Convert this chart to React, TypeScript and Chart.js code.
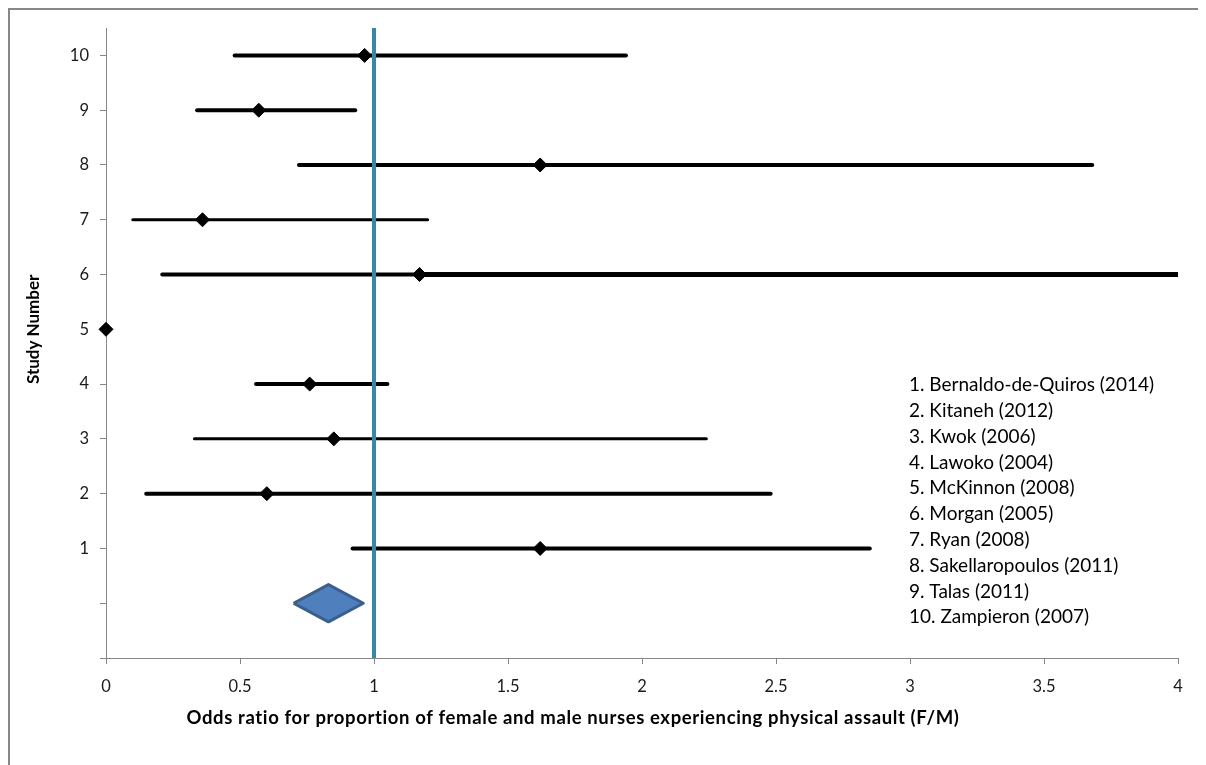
import React, { useEffect, useRef } from 'react';
import { Chart, registerables } from 'chart.js';

Chart.register(...registerables);

// ---- Data ----
const studyNumbers = [1, 2, 3, 4, 5, 6, 7, 8, 9, 10];
const studyNames = [
  'Bernaldo-de-Quiros (2014)',
  'Kitaneh (2012)',
  'Kwok (2006)',
  'Lawoko (2004)',
  'McKinnon (2008)',
  'Morgan (2005)',
  'Ryan (2008)',
  'Sakellaropoulos (2011)',
  'Talas (2011)',
  'Zampieron (2007)',
];
const oddsRatios = [1.62, 0.6, 0.85, 0.76, 0, 1.17, 0.36, 1.62, 0.57, 0.965];
const ciLower: (number | null)[] = [0.92, 0.15, 0.33, 0.56, null, 0.21, 0.1, 0.72, 0.34, 0.48];
const ciUpper: (number | null)[] = [2.85, 2.48, 2.24, 1.05, null, 5.2, 1.2, 3.68, 0.93, 1.94];
const pooledOR = 0.83;
const pooledLower = 0.7;
const pooledUpper = 0.96;
const pooledRow = 0;
const pooledHalfHeight = 0.34;
const referenceOR = 1;
const xTicks = [0, 0.5, 1, 1.5, 2, 2.5, 3, 3.5, 4];

const xTitle = 'Odds ratio for proportion of female and male nurses experiencing physical assault (F/M)';
const yTitle = 'Study Number';

// ---- Styles ----
const FONT = 'Lato, "Open Sans", sans-serif';
const AXIS_GREY = '#868686';
const TEAL = '#3589A2';
const thinRows = [3, 7];

const textPlugin = {
  id: 'textPlugin',
  afterDraw(chart: any) {
    const { ctx, chartArea } = chart;
    const yScale = chart.scales.y;
    ctx.save();
    ctx.fillStyle = '#000';
    // Y title
    ctx.save();
    ctx.translate(chartArea.left - 72, yScale.getPixelForValue(5));
    ctx.rotate(-Math.PI / 2);
    ctx.font = `bold 17px ${FONT}`;
    ctx.textAlign = 'center';
    ctx.textBaseline = 'middle';
    ctx.fillText(yTitle, 0, 0);
    ctx.restore();
    // X title (fit to its span in the reference)
    ctx.save();
    ctx.font = `bold 18.5px ${FONT}`;
    ctx.textAlign = 'left';
    ctx.textBaseline = 'middle';
    const targetW = 773;
    const w0 = ctx.measureText(xTitle).width;
    const gap = Math.max(0, (targetW - w0) / (xTitle.length - 1));
    (ctx as any).letterSpacing = `${gap.toFixed(2)}px`;
    const w1 = ctx.measureText(xTitle).width;
    ctx.fillText(xTitle, chartArea.left + 467 - w1 / 2, chartArea.bottom + 60);
    ctx.restore();
    // Study list
    ctx.font = `19px ${FONT}`;
    ctx.textAlign = 'left';
    ctx.textBaseline = 'middle';
    studyNames.forEach((name, i) => {
      ctx.fillText(`${studyNumbers[i]}. ${name}`, chartArea.left + 803, chartArea.top + 357 + i * 25.8);
    });
    ctx.restore();
  },
};

export default function App() {
  const ref = useRef<HTMLCanvasElement>(null);

  useEffect(() => {
    if (!ref.current) return;

    const ciDatasets: any[] = [];
    studyNumbers.forEach((s, i) => {
      const lo = ciLower[i];
      const hi = ciUpper[i];
      if (lo == null || hi == null) return;
      ciDatasets.push({
        type: 'line',
        label: `CI ${s}`,
        data: [
          { x: lo, y: s },
          { x: oddsRatios[i], y: s },
          { x: hi, y: s },
        ],
        borderColor: '#000',
        borderWidth: thinRows.includes(s) ? 3 : 4,
        borderCapStyle: 'round',
        pointRadius: 0,
        pointHoverRadius: 0,
        fill: false,
        order: 3,
        segment: s === 6 ? { borderWidth: (c: any) => (c.p0DataIndex === 1 ? 5 : 4) } : undefined,
      });
    });

    const chart = new Chart(ref.current, {
      type: 'line',
      data: {
        datasets: [
          {
            type: 'line',
            label: 'Reference',
            data: [
              { x: referenceOR, y: -1 },
              { x: referenceOR, y: 10.5 },
            ],
            borderColor: TEAL,
            borderWidth: 4,
            pointRadius: 0,
            fill: false,
            order: 0,
          },
          {
            type: 'line',
            label: 'Odds ratio',
            data: studyNumbers.map((s, i) => ({ x: oddsRatios[i], y: s })),
            showLine: false,
            pointStyle: 'rectRot',
            pointRadius: 7,
            pointBackgroundColor: '#000',
            pointBorderColor: '#000',
            pointBorderWidth: 1,
            clip: false,
            order: 1,
          },
          {
            type: 'line',
            label: 'Pooled',
            data: [
              { x: pooledLower, y: pooledRow },
              { x: pooledOR, y: pooledRow + pooledHalfHeight },
              { x: pooledUpper, y: pooledRow },
              { x: pooledOR, y: pooledRow - pooledHalfHeight },
              { x: pooledLower, y: pooledRow },
            ],
            borderColor: '#3A5F8E',
            backgroundColor: '#4F80BD',
            borderWidth: 3,
            borderJoinStyle: 'round',
            pointRadius: 0,
            fill: 'shape',
            order: 2,
          },
          ...ciDatasets,
        ],
      },
      options: {
        animation: false,
        responsive: false,
        events: [],
        layout: { padding: { left: 0, top: 18, right: 28, bottom: 0 } },
        plugins: {
          legend: { display: false },
          tooltip: { enabled: false },
          title: { display: false },
        },
        scales: {
          x: {
            type: 'linear',
            min: 0,
            max: 4,
            afterBuildTicks: (scale: any) => {
              scale.ticks = xTicks.map((v) => ({ value: v }));
            },
            afterFit: (scale: any) => {
              scale.height = 107;
              scale.paddingLeft = 0;
              scale.paddingRight = 0;
            },
            grid: {
              drawOnChartArea: false,
              drawTicks: true,
              tickLength: 6,
              tickColor: AXIS_GREY,
            },
            border: { display: true, color: AXIS_GREY, width: 1 },
            ticks: {
              padding: 13,
              color: '#1a1a1a',
              font: { family: FONT, size: 16.5 },
              maxRotation: 0,
              callback: (v: any) => String(v),
            },
          },
          y: {
            type: 'linear',
            min: -1,
            max: 10.5,
            afterBuildTicks: (scale: any) => {
              const t: any[] = [];
              for (let v = -1; v <= 10; v++) t.push({ value: v });
              scale.ticks = t;
            },
            afterFit: (scale: any) => {
              scale.width = 96;
              scale.paddingTop = 0;
              scale.paddingBottom = 0;
            },
            grid: {
              drawOnChartArea: false,
              drawTicks: true,
              tickLength: 6,
              tickColor: AXIS_GREY,
            },
            border: { display: true, color: AXIS_GREY, width: 1 },
            ticks: {
              padding: 11,
              color: '#1a1a1a',
              font: { family: FONT, size: 16.5 },
              callback: (v: any) => (v >= 1 && v <= 10 ? String(v) : ''),
            },
          },
        },
      },
      plugins: [textPlugin],
    } as any);

    return () => chart.destroy();
  }, []);

  return (
    <div
      style={{
        boxSizing: 'border-box',
        width: 1198,
        height: 757,
        borderTop: '2px solid #878787',
        borderLeft: '2px solid #878787',
        background: '#fff',
      }}
    >
      <canvas ref={ref} width={1196} height={755} style={{ display: 'block' }} />
    </div>
  );
}
